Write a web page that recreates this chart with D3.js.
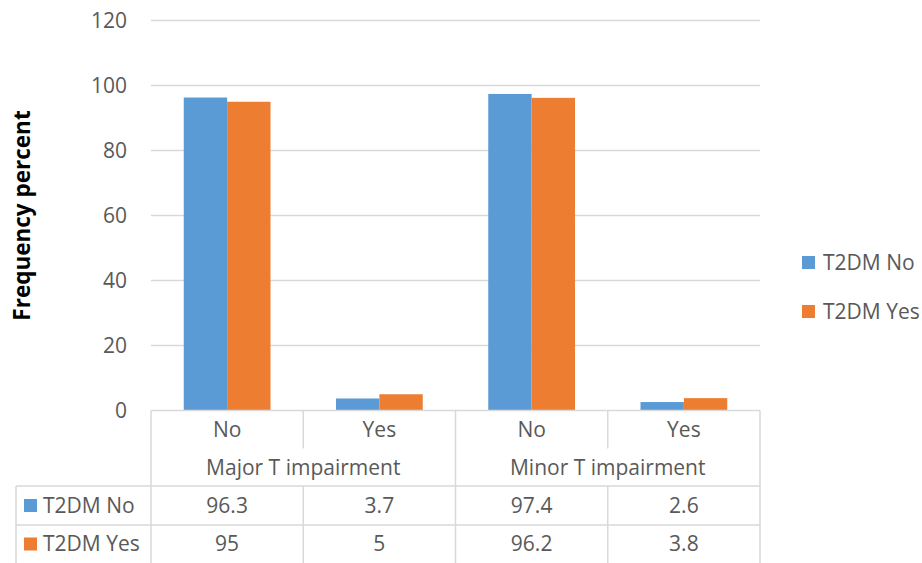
<!DOCTYPE html>
<html>
<head>
<meta charset="utf-8">
<script src="https://cdn.jsdelivr.net/npm/d3@7"></script>
<style>
  html, body { margin: 0; padding: 0; background: #fff; }
  svg { display: block; font-family: "Open Sans", sans-serif; }
</style>
</head>
<body>
<svg id="chart" width="922" height="563"></svg>
<script>
// Frequency of T impairment by T2DM status
const groups = ["Major T impairment", "Minor T impairment"];
const answers = ["No", "Yes"];
const seriesNames = ["T2DM No", "T2DM Yes"];
const t2dmNo = [96.3, 3.7, 97.4, 2.6];
const t2dmYes = [95, 5, 96.2, 3.8];
const yTicks = [0, 20, 40, 60, 80, 100, 120];
const colors = ["#5B9BD5", "#ED7D31"];

const seriesValues = [t2dmNo, t2dmYes];
const categories = [];
groups.forEach((g, gi) => answers.forEach(a => categories.push({ key: gi + "-" + a, group: g, answer: a })));

const svg = d3.select("#chart");
const plotLeft = 151, plotRight = 760, plotTop = 20.5, plotBottom = 410.5;
const textColor = "#595959", lineColor = "#D9D9D9";
const fontSize = "21px";

const x = d3.scaleBand().domain(categories.map(c => c.key)).range([plotLeft, plotRight]);
const xInner = d3.scaleBand().domain(seriesNames).range([0, x.bandwidth()]).paddingOuter(0.755).paddingInner(0);
const y = d3.scaleLinear().domain([0, 120]).range([plotBottom, plotTop]);

// horizontal gridlines
svg.append("g").selectAll("line").data(yTicks.filter(t => t > 0)).join("line")
  .attr("x1", plotLeft).attr("x2", plotRight)
  .attr("y1", d => y(d)).attr("y2", d => y(d))
  .attr("stroke", lineColor).attr("stroke-width", 1.3);

// y axis labels
const yAxis = d3.axisLeft(y).tickValues(yTicks).tickSize(0).tickPadding(0);
const ya = svg.append("g").attr("transform", `translate(127,0)`).call(yAxis);
ya.select(".domain").remove();
ya.selectAll("text").attr("fill", textColor).style("font-size", fontSize)
  .style("font-family", "'Open Sans', sans-serif").attr("dy", "0.35em");

// y axis title
svg.append("text")
  .attr("transform", `translate(22,215.5) rotate(-90)`)
  .attr("text-anchor", "middle").attr("dy", "0.35em")
  .attr("font-weight", "bold").attr("font-size", "22.5px").attr("fill", "#000")
  .text("Frequency percent");

// bars
seriesNames.forEach((s, si) => {
  svg.append("g").selectAll("rect").data(categories).join("rect")
    .attr("x", c => x(c.key) + xInner(s))
    .attr("width", xInner.bandwidth())
    .attr("y", (c, i) => y(seriesValues[si][i]))
    .attr("height", (c, i) => y(0) - y(seriesValues[si][i]))
    .attr("fill", colors[si]);
});

// data table beneath the plot
const rowTop = plotBottom, row1 = 448.5, row2 = 486, row3 = 525, rowEnd = 563;
const tableLeft = 16;
const grid = svg.append("g").attr("stroke", lineColor).attr("stroke-width", 1.5).attr("fill", "none");
// top edge (axis line)
grid.append("line").attr("x1", plotLeft).attr("x2", plotRight).attr("y1", rowTop).attr("y2", rowTop);
// row dividers
[row2, row3].forEach(yy => grid.append("line").attr("x1", tableLeft).attr("x2", plotRight).attr("y1", yy).attr("y2", yy));
// group boundaries (full height)
const groupEdges = [plotLeft, x(categories[2].key), plotRight];
groupEdges.forEach(xx => grid.append("line").attr("x1", xx).attr("x2", xx).attr("y1", rowTop).attr("y2", rowEnd));
// answer dividers inside groups
[x(categories[1].key), x(categories[3].key)].forEach(xx => {
  grid.append("line").attr("x1", xx).attr("x2", xx).attr("y1", rowTop).attr("y2", row1);
  grid.append("line").attr("x1", xx).attr("x2", xx).attr("y1", row2).attr("y2", rowEnd);
});
// legend column left edge
grid.append("line").attr("x1", tableLeft).attr("x2", tableLeft).attr("y1", row2).attr("y2", rowEnd);

const txt = svg.append("g").attr("fill", textColor).attr("font-size", fontSize).attr("text-anchor", "middle");
categories.forEach(c => {
  txt.append("text").attr("x", x(c.key) + x.bandwidth() / 2).attr("y", (rowTop + row1) / 2).attr("dy", "0.35em").text(c.answer);
});
groups.forEach((g, gi) => {
  txt.append("text").attr("x", (groupEdges[gi] + groupEdges[gi + 1]) / 2).attr("y", (row1 + row2) / 2).attr("dy", "0.35em").text(g);
});
const rowMids = [(row2 + row3) / 2, (row3 + rowEnd) / 2];
seriesNames.forEach((s, si) => {
  categories.forEach((c, i) => {
    txt.append("text").attr("x", x(c.key) + x.bandwidth() / 2).attr("y", rowMids[si]).attr("dy", "0.35em").text(seriesValues[si][i]);
  });
  svg.append("rect").attr("x", 24).attr("y", rowMids[si] - 6.5).attr("width", 13).attr("height", 13).attr("fill", colors[si]);
  svg.append("text").attr("x", 43).attr("y", rowMids[si]).attr("dy", "0.35em")
    .attr("fill", textColor).attr("font-size", fontSize).text(s);
});

// legend on the right
const legendY = [262.5, 311.5];
seriesNames.forEach((s, si) => {
  svg.append("rect").attr("x", 802).attr("y", legendY[si] - 6.5).attr("width", 13).attr("height", 13).attr("fill", colors[si]);
  svg.append("text").attr("x", 823).attr("y", legendY[si]).attr("dy", "0.35em")
    .attr("fill", textColor).attr("font-size", fontSize).text(s);
});
</script>
</body>
</html>
